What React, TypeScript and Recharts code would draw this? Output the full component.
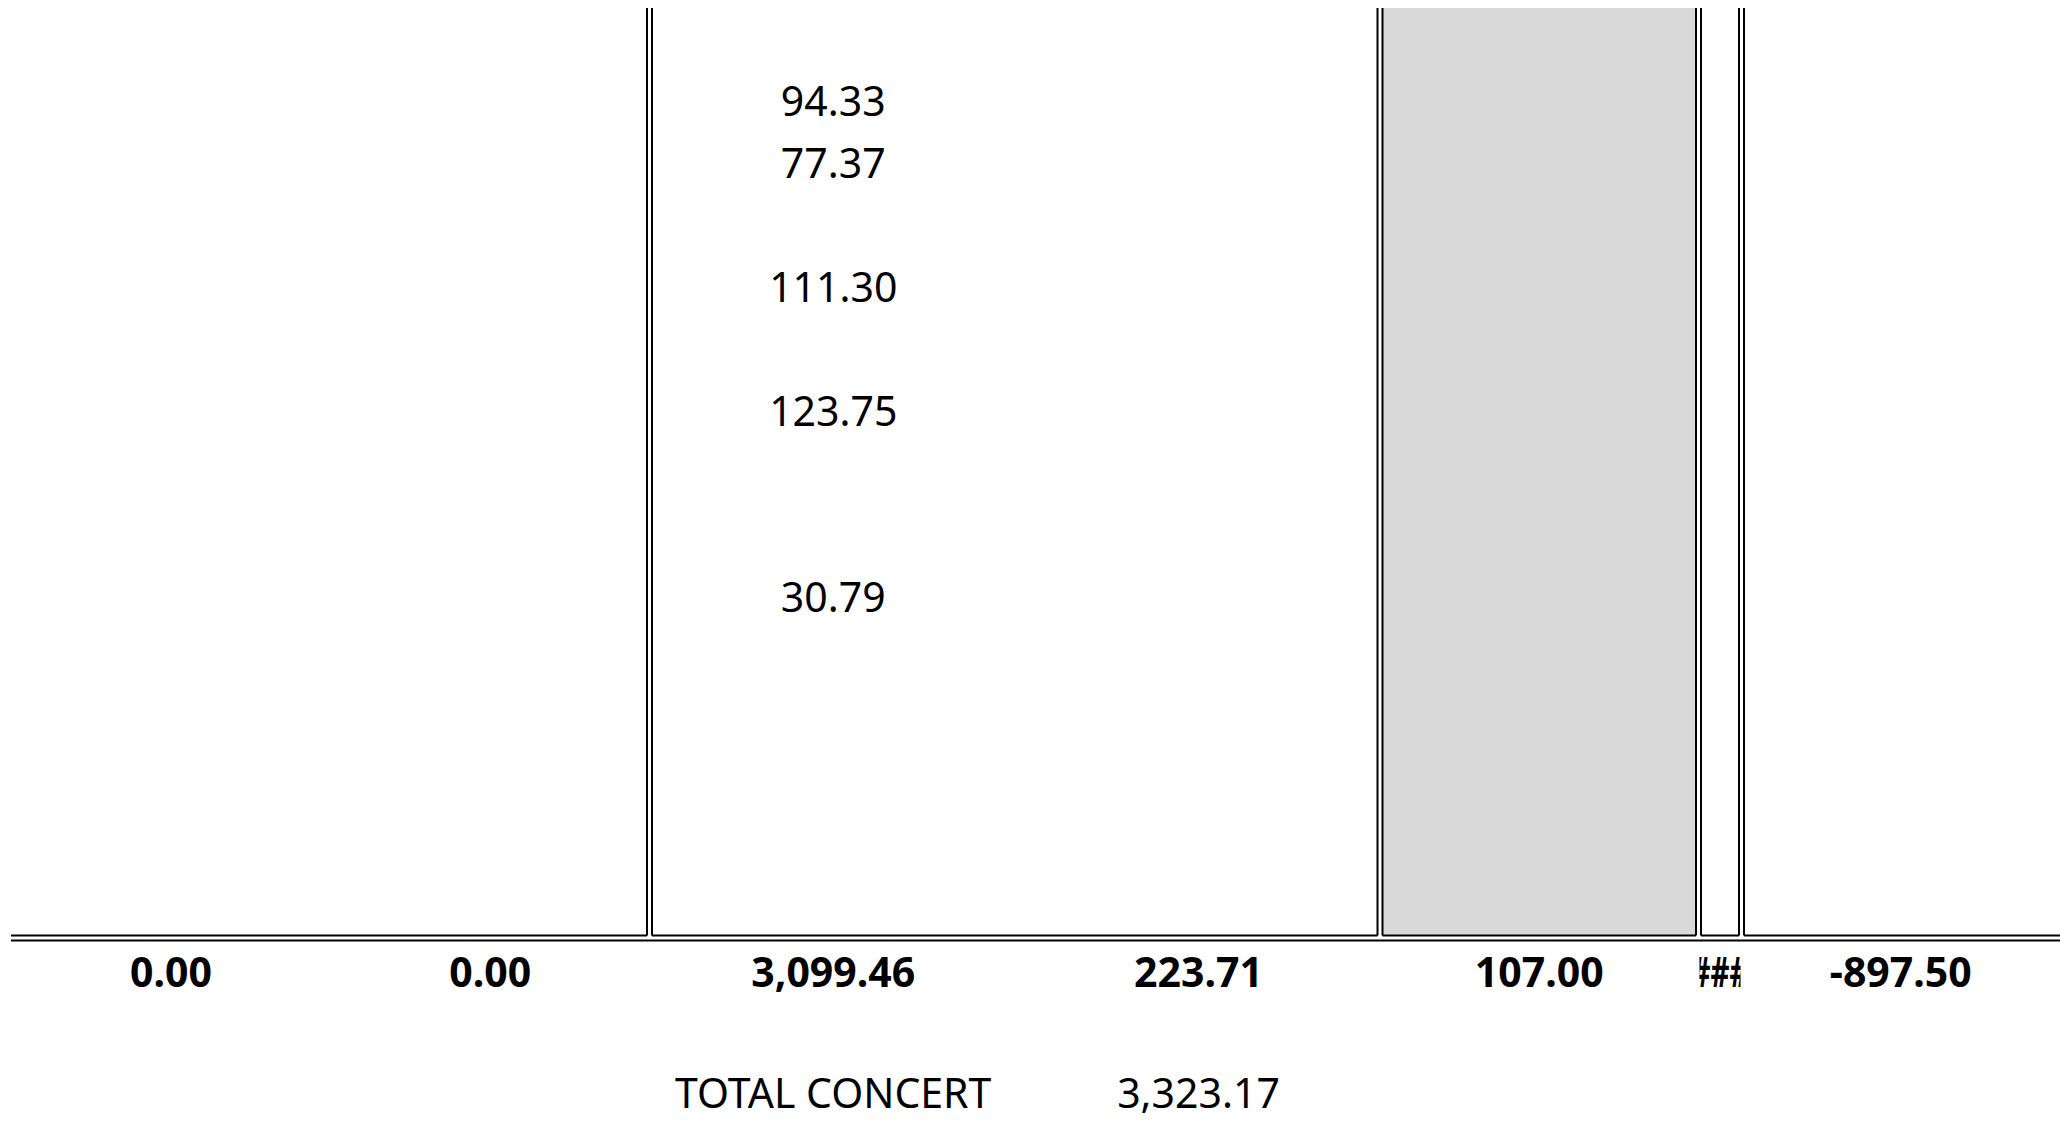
import {
	ComposedChart,
	ReferenceArea,
	ReferenceLine,
	Scatter,
	XAxis,
	YAxis,
} from 'recharts'

// sheet values
const detailRows = [0, 1, 3, 5, 8]
const detailValues = ['94.33', '77.37', '111.30', '123.75', '30.79']
const totalRow = 14
const totalValues = ['0.00', '0.00', '3,099.46', '223.71', '107.00', '###', '-897.50']
const summaryRow = 16
const summaryCols = [2, 3]
const summaryLabels = ['TOTAL CONCERT', '3,323.17']

// sheet layout
const W = 2060
const H = 1125
const ROW_TOP = 70
const ROW_H = 62
const colEdges = [11, 331, 649.5, 1017, 1380, 1698.5, 1741.5, 2060]
const doubleEdges = [2, 4, 5, 6]
const detailCol = 2
const shadedCol = 4
const GAP = 2.5
const FONT = '"Noto Sans", "Open Sans", sans-serif'

const colCenter = (c: number) => (colEdges[c] + colEdges[c + 1]) / 2
const colWidth = (c: number) => colEdges[c + 1] - colEdges[c]
const lineOff = GAP / ROW_H

const detailData = detailValues.map((label, i) => ({
	x: colCenter(detailCol),
	y: detailRows[i] + 0.5,
	label,
}))

const totalData = totalValues.map((label, i) => ({
	x: colCenter(i),
	y: totalRow + 0.5,
	label,
	clip: label === '###' ? colWidth(i) : 0,
}))

const summaryData = summaryLabels.map((label, i) => ({
	x: colCenter(summaryCols[i]),
	y: summaryRow + 0.5,
	label,
}))

function cellText(bold: boolean, dy: number) {
	return (props: any) => {
		const { cx, cy, payload } = props
		const clip = payload.clip
		if (clip) {
			return (
				<g>
					<defs>
						<clipPath id="hash-clip">
							<rect x={cx - clip / 2 + 1} y={cy - 40} width={clip - 2} height={80} />
						</clipPath>
					</defs>
					<text
						x={cx}
						y={cy + dy}
						textAnchor="middle"
						fontFamily={FONT}
						fontSize={41}
						fontWeight={700}
						fill="#000"
						textLength={clip + 14}
						lengthAdjust="spacingAndGlyphs"
						clipPath="url(#hash-clip)"
					>
						{payload.label}
					</text>
				</g>
			)
		}
		return (
			<text
				x={cx}
				y={cy + dy}
				textAnchor="middle"
				fontFamily={FONT}
				fontSize={41}
				fontWeight={bold ? 700 : 400}
				fill="#000"
			>
				{payload.label}
			</text>
		)
	}
}

// top border line is broken where the double column borders meet it
const topSegments: [number, number][] = []
{
	let start = colEdges[0]
	doubleEdges.forEach((e) => {
		topSegments.push([start, colEdges[e] - GAP])
		start = colEdges[e] + GAP
	})
	topSegments.push([start, W])
}

export default function App() {
	const yTop = -1
	const yLine = totalRow - lineOff

	return (
		<div style={{ position: 'absolute', left: 0, top: 0, background: '#fff' }}>
			<ComposedChart
				width={W}
				height={H}
				margin={{ top: 0, right: 0, bottom: 0, left: 0 }}
			>
				<XAxis type="number" dataKey="x" domain={[0, W]} hide allowDataOverflow />
				<YAxis
					type="number"
					dataKey="y"
					domain={[-ROW_TOP / ROW_H, (H - ROW_TOP) / ROW_H]}
					reversed
					hide
					allowDataOverflow
				/>

				<ReferenceArea
					x1={colEdges[shadedCol] + GAP}
					x2={colEdges[shadedCol + 1] - GAP}
					y1={yTop}
					y2={yLine}
					fill="#d9d9d9"
					fillOpacity={1}
					stroke="none"
					ifOverflow="visible"
				/>

				{doubleEdges.flatMap((e) =>
					[-GAP, GAP].map((d) => (
						<ReferenceLine
							key={`v-${e}-${d}`}
							segment={[
								{ x: colEdges[e] + d, y: yTop },
								{ x: colEdges[e] + d, y: yLine },
							]}
							stroke="#000"
							strokeWidth={2}
							ifOverflow="visible"
						/>
					)),
				)}

				{topSegments.map(([a, b]) => (
					<ReferenceLine
						key={`t-${a}`}
						segment={[
							{ x: a, y: yLine },
							{ x: b, y: yLine },
						]}
						stroke="#000"
						strokeWidth={2}
						ifOverflow="visible"
					/>
				))}
				<ReferenceLine
					segment={[
						{ x: colEdges[0], y: totalRow + lineOff },
						{ x: W, y: totalRow + lineOff },
					]}
					stroke="#000"
					strokeWidth={2}
					ifOverflow="visible"
				/>

				<Scatter data={detailData} shape={cellText(false, 15)} isAnimationActive={false} />
				<Scatter data={totalData} shape={cellText(true, 18)} isAnimationActive={false} />
				<Scatter data={summaryData} shape={cellText(false, 15)} isAnimationActive={false} />
			</ComposedChart>
		</div>
	)
}
